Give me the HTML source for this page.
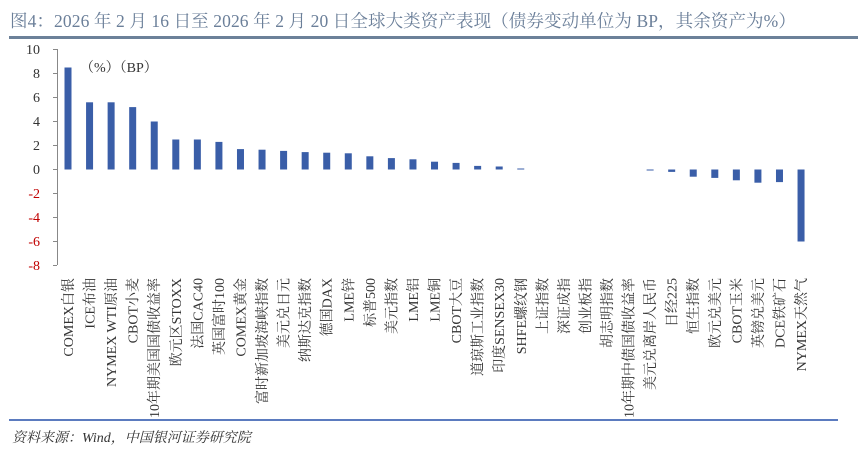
<!DOCTYPE html>
<html><head><meta charset="utf-8"><style>
body{margin:0;width:858px;height:454px;background:#fff;overflow:hidden}
</style></head><body>
<svg width="858" height="454" xmlns="http://www.w3.org/2000/svg" font-family="Liberation Serif, Noto Serif CJK SC, serif">
<text x="10" y="27" font-size="17.5" letter-spacing="0.1" fill="#6b7f99">图4：2026 年 2 月 16 日至 2026 年 2 月 20 日全球大类资产表现（债券变动单位为 BP，其余资产为%）</text>
<rect x="9" y="36" width="849" height="3" fill="#6c8199"/>
<g font-size="14" text-anchor="end">
<text x="40" y="54" fill="#333">10</text>
<text x="40" y="78" fill="#333">8</text>
<text x="40" y="102" fill="#333">6</text>
<text x="40" y="126" fill="#333">4</text>
<text x="40" y="150" fill="#333">2</text>
<text x="40" y="174" fill="#333">0</text>
<text x="40" y="198" fill="#c00000">-2</text>
<text x="40" y="222" fill="#c00000">-4</text>
<text x="40" y="246" fill="#c00000">-6</text>
<text x="40" y="270" fill="#c00000">-8</text>
</g>
<g stroke="#888" stroke-width="1">
<line x1="57.5" y1="49" x2="57.5" y2="265"/>
<line x1="53" y1="49.5" x2="57" y2="49.5"/><line x1="53" y1="73.5" x2="57" y2="73.5"/><line x1="53" y1="97.5" x2="57" y2="97.5"/><line x1="53" y1="121.5" x2="57" y2="121.5"/><line x1="53" y1="145.5" x2="57" y2="145.5"/><line x1="53" y1="169.5" x2="57" y2="169.5"/><line x1="53" y1="193.5" x2="57" y2="193.5"/><line x1="53" y1="217.5" x2="57" y2="217.5"/><line x1="53" y1="241.5" x2="57" y2="241.5"/><line x1="53" y1="265.5" x2="57" y2="265.5"/>
</g>
<text x="80" y="72" font-size="14" fill="#333">（%）（BP）</text>
<g id="bars" fill="#3a5ea8"></g>
<g id="labels" font-size="14" fill="#333"></g>
<rect x="9" y="419" width="829" height="2" fill="#5b7bbf"/>
<text x="12" y="442" font-size="14" font-style="italic" fill="#333">资料来源：Wind，中国银河证券研究院</text>
</svg>
<script>
var names=["COMEX白银","ICE布油","NYMEX WTI原油","CBOT小麦","10年期美国国债收益率","欧元区STOXX","法国CAC40","英国富时100","COMEX黄金","富时新加坡海峡指数","美元兑日元","纳斯达克指数","德国DAX","LME锌","标普500","美元指数","LME铝","LME铜","CBOT大豆","道琼斯工业指数","印度SENSEX30","SHFE螺纹钢","上证指数","深证成指","创业板指","胡志明指数","10年期中债国债收益率","美元兑离岸人民币","日经225","恒生指数","欧元兑美元","CBOT玉米","英镑兑美元","DCE铁矿石","NYMEX天然气"];
var vals=[8.5,5.6,5.6,5.2,4.0,2.5,2.5,2.3,1.7,1.65,1.55,1.45,1.4,1.35,1.1,0.95,0.85,0.65,0.55,0.3,0.25,0.05,0,0,0,0,0,-0.05,-0.2,-0.6,-0.7,-0.9,-1.1,-1.05,-6.0];
var ns="http://www.w3.org/2000/svg",b=document.getElementById("bars"),l=document.getElementById("labels");
for(var i=0;i<35;i++){var cx=68+i*21.56,v=vals[i];
if(v!=0){var r=document.createElementNS(ns,"rect");var h=Math.max(Math.abs(v)*12,1);
r.setAttribute("x",cx-3.5);r.setAttribute("width",7);r.setAttribute("y",v>0?169.5-h:169.5);r.setAttribute("height",h);b.appendChild(r);}
var t=document.createElementNS(ns,"text");t.setAttribute("text-anchor","end");
t.setAttribute("transform","translate("+(cx+5)+",278) rotate(-90)");t.textContent=names[i];l.appendChild(t);}
</script>
</body></html>
